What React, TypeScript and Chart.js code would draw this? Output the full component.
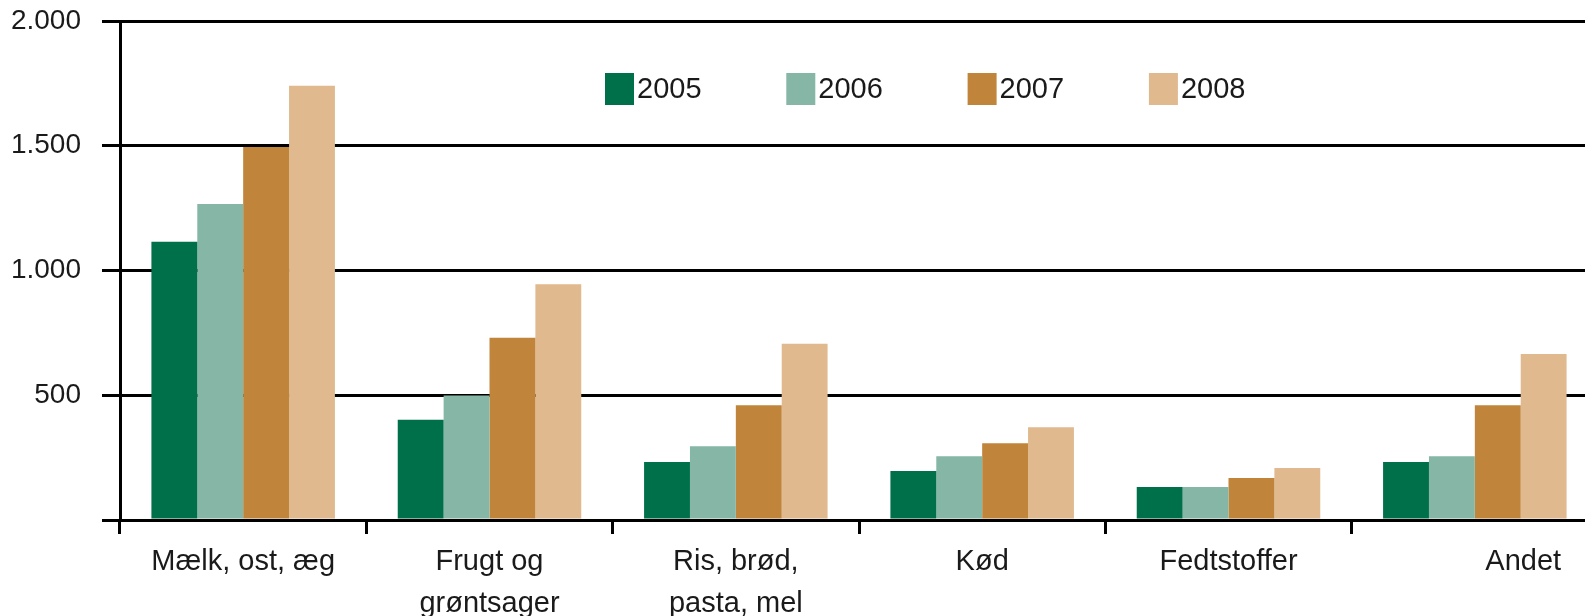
import React, { useEffect, useRef } from "react";
import { Chart, registerables } from "chart.js";

Chart.register(...registerables);

const categories: (string | string[])[] = [
  "Mælk, ost, æg",
  ["Frugt og", "grøntsager"],
  ["Ris, brød,", "pasta, mel"],
  "Kød",
  "Fedtstoffer",
  "            Andet",
];
const seriesLabels = ["2005", "2006", "2007", "2008"];
const values2005 = [1115, 402, 232, 196, 132, 232];
const values2006 = [1267, 499, 296, 256, 132, 256];
const values2007 = [1495, 730, 460, 308, 168, 460];
const values2008 = [1740, 945, 706, 372, 208, 665];
const colors = ["#00704A", "#86B7A6", "#C0853A", "#E0B98E"];
const yTicks = [0, 500, 1000, 1500, 2000];

const FONT = '"Liberation Sans", Arial, sans-serif';
const TEXT = "#1a1a1a";

const fmt = (v: number) =>
  v === 0 ? "" : String(v).replace(/\B(?=(\d{3})+(?!\d))/g, ".");

const legendPlugin = {
  id: "innerLegend",
  afterDraw(chart: any) {
    const ctx = chart.ctx;
    ctx.save();
    ctx.font = `29px ${FONT}`;
    ctx.textBaseline = "middle";
    ctx.textAlign = "left";
    chart.data.datasets.forEach((ds: any, i: number) => {
      const x = 605 + i * 181.3;
      const y = 73;
      ctx.fillStyle = ds.backgroundColor;
      ctx.fillRect(x, y, 29, 32);
      ctx.fillStyle = TEXT;
      ctx.fillText(ds.label, x + 32, y + 17);
    });
    ctx.restore();
  },
};

export default function App() {
  const ref = useRef<HTMLCanvasElement | null>(null);
  useEffect(() => {
    if (!ref.current) return;
    const series = [values2005, values2006, values2007, values2008];
    const chart = new Chart(ref.current, {
      type: "bar",
      data: {
        labels: categories,
        datasets: series.map((d, i) => ({
          label: seriesLabels[i],
          data: d,
          backgroundColor: colors[i],
          borderWidth: 0,
          categoryPercentage: 0.745,
          barPercentage: 1,
        })),
      },
      options: {
        responsive: false,
        animation: false,
        layout: { padding: { top: 21, right: 2, left: 0, bottom: 0 } },
        plugins: { legend: { display: false }, tooltip: { enabled: false } },
        scales: {
          x: {
            offset: true,
            grid: {
              offset: true,
              drawOnChartArea: false,
              drawTicks: true,
              tickLength: 14,
              color: "#000",
              lineWidth: 3,
            },
            border: { display: true, color: "#000", width: 3 },
            ticks: {
              autoSkip: false,
              maxRotation: 0,
              minRotation: 0,
              padding: 7,
              color: TEXT,
              font: { family: FONT, size: 29, lineHeight: 1.45 },
            },
            afterFit: (s: any) => {
              s.height = 96;
            },
          },
          y: {
            min: 0,
            max: 2000,
            afterBuildTicks: (s: any) => {
              s.ticks = yTicks.map((v) => ({ value: v }));
            },
            grid: {
              color: "#000",
              lineWidth: 3,
              drawTicks: true,
              tickLength: 18,
            },
            border: { display: true, color: "#000", width: 3 },
            ticks: {
              padding: 21,
              color: TEXT,
              font: { family: FONT, size: 28 },
              callback: (v: any) => fmt(Number(v)),
            },
            afterFit: (s: any) => {
              s.width = 120;
              s.paddingTop = 0;
              s.paddingBottom = 0;
            },
          },
        },
      },
      plugins: [legendPlugin],
    });
    return () => chart.destroy();
  }, []);
  return (
    <div
      style={{
        position: "absolute",
        left: 0,
        top: 0,
        width: 1585,
        height: 616,
        overflow: "hidden",
        background: "#fff",
      }}
    >
      <canvas ref={ref} width={1600} height={616} style={{ display: "block" }} />
    </div>
  );
}
